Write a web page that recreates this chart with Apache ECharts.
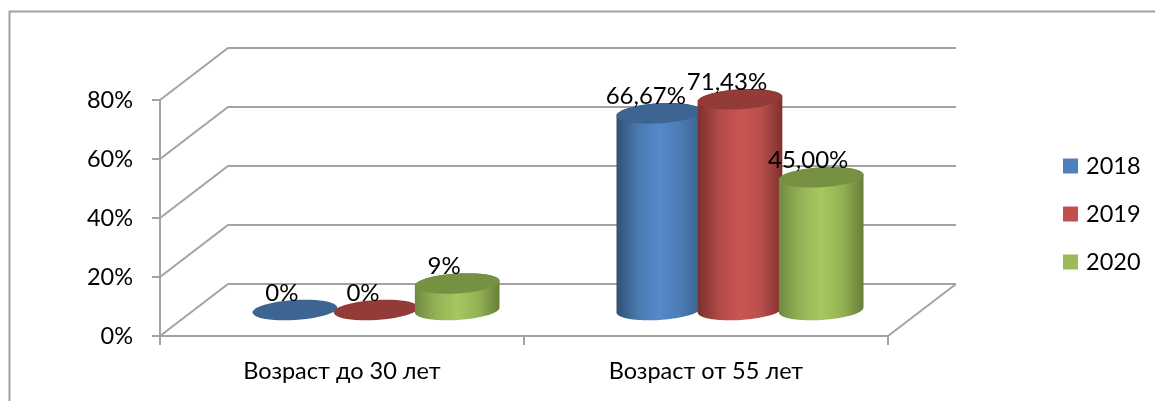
<!DOCTYPE html>
<html>
<head>
<meta charset="utf-8">
<style>
    html, body { margin: 0; padding: 0; background: #fff; }
    #main { width: 1155px; height: 401px; }
</style>
<script src="https://cdn.jsdelivr.net/npm/echarts@6/dist/echarts.min.js"></script>
</head>
<body>
<div id="main"></div>
<script>
    const categories = ['Возраст до 30 лет', 'Возраст от 55 лет'];
    const years = ['2018', '2019', '2020'];
    const values2018 = [0, 66.67];
    const values2019 = [0, 71.43];
    const values2020 = [9, 45];
    const labels2018 = ['0%', '66,67%'];
    const labels2019 = ['0%', '71,43%'];
    const labels2020 = ['9%', '45,00%'];
    const yTicks = [0, 20, 40, 60, 80];

    const fontName = 'Lato, "Open Sans", sans-serif';
    const gridColor = '#a3a3a3';
    const depthX = 68;
    const depthY = -52;

    // flat color, cap color, gradient stops of the cylinder wall
    const looks = [
        { flat: '#4f81bd', cap: '#3e6491', stops: ['#2f5276', '#4a78ae', '#5688cb', '#4c7cb4', '#3a6291'] },
        { flat: '#c0504d', cap: '#933b39', stops: ['#7c302e', '#b04a47', '#cb5451', '#b94f4c', '#7e302e'] },
        { flat: '#9bbb59', cap: '#779142', stops: ['#6f8b42', '#92b255', '#a5c860', '#93b254', '#667f38'] }
    ];

    function ellipsePoint(cx, cy, rx, ry, t) {
        const tilt = -3.5 * Math.PI / 180;
        const px = rx * Math.cos(t), py = ry * Math.sin(t);
        return [cx + px * Math.cos(tilt) - py * Math.sin(tilt), cy + px * Math.sin(tilt) + py * Math.cos(tilt)];
    }

    function ring(cx, cy, rx, ry, from, to) {
        let pts = [];
        for (let i = 0; i <= 48; i++) {
            pts.push(ellipsePoint(cx, cy, rx, ry, from + (to - from) * i / 48));
        }
        return pts;
    }

    function cylinderSeries(index, values, labels) {
        const look = looks[index];
        return {
            name: years[index],
            type: 'custom',
            data: values.map(function (v, i) { return [i, v]; }),
            encode: { x: 0, y: 1 },
            itemStyle: { color: look.flat },
            z: 3,
            renderItem: function (params, api) {
                const band = api.size([1, 0])[0];
                const step = band * 0.223;
                const rx = band * 0.1165;
                const ry = 10;
                const cx = api.coord([api.value(0), 0])[0] + depthX / 2 + (index - 1) * step;
                const baseY = api.coord([api.value(0), 0])[1] + depthY / 2;
                const topY = api.coord([api.value(0), api.value(1)])[1] + depthY / 2;
                const children = [];
                if (api.value(1) > 0) {
                    const wall = ring(cx, baseY, rx, ry, Math.PI, 0).concat(ring(cx, topY, rx, ry, 0, -Math.PI));
                    children.push({
                        type: 'polygon',
                        shape: { points: wall },
                        style: {
                            fill: new echarts.graphic.LinearGradient(0, 0, 1, 0, [
                                { offset: 0, color: look.stops[0] },
                                { offset: 0.25, color: look.stops[1] },
                                { offset: 0.5, color: look.stops[2] },
                                { offset: 0.75, color: look.stops[3] },
                                { offset: 1, color: look.stops[4] }
                            ])
                        }
                    });
                }
                children.push({
                    type: 'polygon',
                    shape: { points: ring(cx, topY, rx, ry, 0, 2 * Math.PI) },
                    style: { fill: look.cap }
                });
                children.push({
                    type: 'text',
                    z2: 10,
                    style: {
                        text: labels[params.dataIndex],
                        x: cx - 13,
                        y: topY - 17,
                        align: 'center',
                        verticalAlign: 'middle',
                        fill: '#000',
                        font: '24px ' + fontName
                    }
                });
                return { type: 'group', children: children };
            }
        };
    }

    // back wall lines and the floor edge, behind the cylinders
    const wallSeries = {
        type: 'custom',
        data: yTicks.map(function (v) { return [0, v]; }),
        encode: { x: 0, y: 1 },
        z: 1,
        silent: true,
        renderItem: function (params, api) {
            const box = params.coordSys;
            const y = api.coord([0, api.value(1)])[1];
            const lineStyle = { stroke: gridColor, lineWidth: 2, fill: null };
            const children = [{
                type: 'polyline',
                shape: { points: [[box.x, y], [box.x + depthX, y + depthY], [box.x + box.width + depthX, y + depthY]] },
                style: lineStyle
            }];
            if (api.value(1) === 0) {
                children.push({
                    type: 'line',
                    shape: { x1: box.x + box.width, y1: y, x2: box.x + box.width + depthX, y2: y + depthY },
                    style: lineStyle
                });
            }
            return { type: 'group', children: children };
        }
    };

    let myChart = echarts.init(document.getElementById('main'));
    let option = {
        animation: false,
        backgroundColor: '#fff',
        color: looks.map(function (l) { return l.flat; }),
        graphic: [{
            type: 'polyline',
            shape: { points: [[9.5, 401], [9.5, 11.5], [1155, 11.5]] },
            style: { stroke: '#a0a0a0', lineWidth: 2, fill: null }
        }],
        grid: { left: 160, right: 267, top: 100, bottom: 65 },
        legend: {
            data: years,
            orient: 'vertical',
            left: 1058,
            top: 149,
            padding: 5,
            itemWidth: 15,
            itemHeight: 15,
            itemGap: 24,
            icon: 'rect',
            textStyle: { color: '#000', fontSize: 23.5, fontFamily: fontName, padding: [0, 0, 0, 3] }
        },
        xAxis: {
            type: 'category',
            data: categories,
            axisLine: { lineStyle: { color: gridColor, width: 2 } },
            axisTick: { show: true, length: 9, lineStyle: { color: gridColor, width: 2 } },
            axisLabel: { color: '#000', fontSize: 23.5, fontFamily: fontName, margin: 23 }
        },
        yAxis: {
            type: 'value',
            min: 0,
            max: 80,
            interval: 20,
            axisLine: { show: true, lineStyle: { color: gridColor, width: 2 } },
            axisTick: { show: true, length: 8, lineStyle: { color: gridColor, width: 2 } },
            splitLine: { show: false },
            axisLabel: { color: '#000', fontSize: 23.5, fontFamily: fontName, margin: 27, formatter: '{value}%' }
        },
        series: [
            wallSeries,
            cylinderSeries(0, values2018, labels2018),
            cylinderSeries(1, values2019, labels2019),
            cylinderSeries(2, values2020, labels2020)
        ]
    };
    myChart.setOption(option);
</script>
</body>
</html>
